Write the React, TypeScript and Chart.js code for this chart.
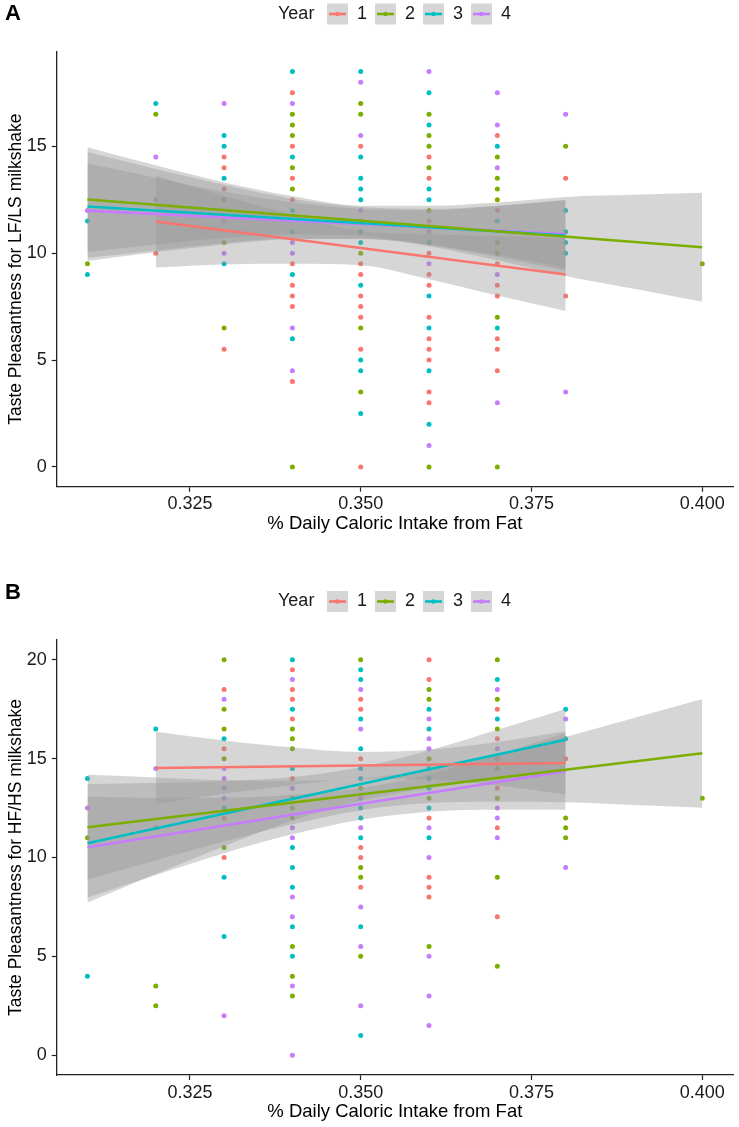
import React, { useEffect, useRef } from 'react';
import { Chart, registerables } from 'chart.js';

Chart.register(...registerables);

const YEARS = ['1', '2', '3', '4'];
const COLORS = ['#F8766D', '#7CAE00', '#00BFC4', '#C77CFF'];
const X_TICKS = [0.325, 0.35, 0.375, 0.4];
const A_Y_TICKS = [0, 5, 10, 15];
const B_Y_TICKS = [0, 5, 10, 15, 20];
const X_TITLE = '% Daily Caloric Intake from Fat';
const A_Y_TITLE = 'Taste Pleasantness for LF/LS milkshake';
const B_Y_TITLE = 'Taste Pleasantness for HF/HS milkshake';

// ---------- Panel A scatter points [x, y] ----------
const A_YEAR1: number[][] = [
  [0.32, 10],
  [0.33, 14.5], [0.33, 14], [0.33, 13], [0.33, 5.5],
  [0.34, 17.5], [0.34, 15], [0.34, 13.5], [0.34, 12.5], [0.34, 9.5], [0.34, 8.5], [0.34, 8], [0.34, 7.5], [0.34, 4],
  [0.35, 15], [0.35, 9.5], [0.35, 9], [0.35, 8], [0.35, 7.5], [0.35, 7], [0.35, 5.5], [0.35, 0],
  [0.36, 14.5], [0.36, 13.5], [0.36, 11.5], [0.36, 10], [0.36, 9], [0.36, 8.5], [0.36, 7], [0.36, 6], [0.36, 5.5], [0.36, 5], [0.36, 3.5], [0.36, 3],
  [0.37, 15.5], [0.37, 12], [0.37, 9.5], [0.37, 8.5], [0.37, 8], [0.37, 6], [0.37, 5.5], [0.37, 4.5],
  [0.38, 13.5], [0.38, 8],
];
const A_YEAR2: number[][] = [
  [0.31, 9.5],
  [0.32, 16.5],
  [0.33, 12.5], [0.33, 10.5], [0.33, 6.5],
  [0.34, 16.5], [0.34, 16], [0.34, 15.5], [0.34, 14], [0.34, 13], [0.34, 0],
  [0.35, 17], [0.35, 16.5], [0.35, 11.5], [0.35, 10], [0.35, 6.5], [0.35, 3.5],
  [0.36, 16.5], [0.36, 15.5], [0.36, 15], [0.36, 14], [0.36, 12], [0.36, 0],
  [0.37, 14.5], [0.37, 13.5], [0.37, 13], [0.37, 12.5], [0.37, 10.5], [0.37, 10], [0.37, 7], [0.37, 0],
  [0.38, 15],
  [0.4, 9.5],
];
const A_YEAR3: number[][] = [
  [0.31, 11.5], [0.31, 9],
  [0.32, 17],
  [0.33, 15.5], [0.33, 15], [0.33, 13.5], [0.33, 9.5],
  [0.34, 18.5], [0.34, 14.5], [0.34, 12], [0.34, 11], [0.34, 9], [0.34, 6],
  [0.35, 18.5], [0.35, 14.5], [0.35, 13.5], [0.35, 13], [0.35, 12.5], [0.35, 11], [0.35, 10.5], [0.35, 8.5], [0.35, 5], [0.35, 4.5], [0.35, 2.5],
  [0.36, 17.5], [0.36, 16], [0.36, 13], [0.36, 12.5], [0.36, 10.5], [0.36, 8], [0.36, 6.5], [0.36, 4.5], [0.36, 2],
  [0.37, 15], [0.37, 11.5], [0.37, 6.5],
  [0.38, 12], [0.38, 11], [0.38, 10.5], [0.38, 10],
];
const A_YEAR4: number[][] = [
  [0.31, 12],
  [0.32, 14.5], [0.32, 12.5],
  [0.33, 17], [0.33, 11.5], [0.33, 10],
  [0.34, 17], [0.34, 10.5], [0.34, 10], [0.34, 6.5], [0.34, 4.5],
  [0.35, 18], [0.35, 15.5], [0.35, 12],
  [0.36, 18.5], [0.36, 11], [0.36, 9.5], [0.36, 1],
  [0.37, 17.5], [0.37, 16], [0.37, 14], [0.37, 9], [0.37, 3],
  [0.38, 16.5], [0.38, 3.5],
];

// ---------- Panel A fits ----------
const A_FIT_X1 = [0.32, 0.33, 0.34, 0.35, 0.36, 0.37, 0.38];
const A_FIT_X2 = [0.31, 0.32, 0.33, 0.34, 0.35, 0.36, 0.37, 0.38, 0.39, 0.4];
const A_FIT_X3 = [0.31, 0.32, 0.33, 0.34, 0.35, 0.36, 0.37, 0.38];
const A_FIT_X4 = [0.31, 0.32, 0.33, 0.34, 0.35, 0.36, 0.37, 0.38];
const A_LINE1 = [11.48, 9.0];
const A_LINE2 = [12.51, 10.28];
const A_LINE3 = [12.18, 10.83];
const A_LINE4 = [11.99, 10.9];
const A_HI1 = [13.63, 12.67, 11.8, 11.04, 10.88, 10.8, 10.7];
const A_LO1 = [9.33, 9.47, 9.5, 9.44, 8.78, 8.02, 7.3];
const A_HI2 = [14.96, 14.11, 13.31, 12.67, 12.22, 12.22, 12.37, 12.63, 12.73, 12.83];
const A_LO2 = [10.06, 10.41, 10.71, 10.87, 10.82, 10.32, 9.67, 8.93, 8.33, 7.73];
const A_HI3 = [14.73, 13.94, 13.2, 12.55, 12.16, 12.07, 12.22, 12.48];
const A_LO3 = [9.63, 10.04, 10.4, 10.65, 10.66, 10.37, 9.82, 9.18];
const A_HI4 = [14.19, 13.53, 12.88, 12.37, 12.07, 12.01, 12.21, 12.5];
const A_LO4 = [9.79, 10.13, 10.48, 10.67, 10.67, 10.41, 9.91, 9.3];

// ---------- Panel B scatter points [x, y] ----------
const B_YEAR1: number[][] = [
  [0.32, 11.5],
  [0.33, 18.5], [0.33, 15.5], [0.33, 12], [0.33, 10],
  [0.34, 19.5], [0.34, 18.5], [0.34, 18], [0.34, 17], [0.34, 14],
  [0.35, 18], [0.35, 17.5], [0.35, 15], [0.35, 10.5], [0.35, 10], [0.35, 8.5],
  [0.36, 20], [0.36, 19], [0.36, 12], [0.36, 9], [0.36, 8.5], [0.36, 8],
  [0.37, 17.5], [0.37, 16], [0.37, 15], [0.37, 13.5], [0.37, 11.5], [0.37, 7],
  [0.38, 15],
];
const B_YEAR2: number[][] = [
  [0.31, 11],
  [0.32, 3.5], [0.32, 2.5],
  [0.33, 20], [0.33, 17.5], [0.33, 16.5], [0.33, 15], [0.33, 10.5],
  [0.34, 16.5], [0.34, 16], [0.34, 15.5], [0.34, 13], [0.34, 12.5], [0.34, 12], [0.34, 5.5], [0.34, 4], [0.34, 3],
  [0.35, 20], [0.35, 13.5], [0.35, 9.5], [0.35, 9], [0.35, 5],
  [0.36, 18.5], [0.36, 18], [0.36, 15], [0.36, 13], [0.36, 5.5],
  [0.37, 20], [0.37, 18], [0.37, 16.5], [0.37, 14.5], [0.37, 13], [0.37, 9], [0.37, 4.5],
  [0.38, 12], [0.38, 11.5], [0.38, 11],
  [0.4, 13],
];
const B_YEAR3: number[][] = [
  [0.31, 14], [0.31, 4],
  [0.32, 16.5],
  [0.33, 16], [0.33, 12.5], [0.33, 9], [0.33, 6],
  [0.34, 20], [0.34, 17.5], [0.34, 14.5], [0.34, 10.5], [0.34, 9.5], [0.34, 8.5], [0.34, 6.5], [0.34, 5],
  [0.35, 19.5], [0.35, 19], [0.35, 17], [0.35, 15.5], [0.35, 14.5], [0.35, 14], [0.35, 12.5], [0.35, 12], [0.35, 11], [0.35, 6.5], [0.35, 1],
  [0.36, 17.5], [0.36, 16.5], [0.36, 14.5], [0.36, 14], [0.36, 13.5], [0.36, 12.5], [0.36, 11],
  [0.37, 19], [0.37, 17],
  [0.38, 17.5], [0.38, 16],
];
const B_YEAR4: number[][] = [
  [0.31, 12.5],
  [0.32, 14.5],
  [0.33, 18], [0.33, 14.5], [0.33, 14], [0.33, 13.5], [0.33, 13], [0.33, 2],
  [0.34, 19], [0.34, 13.5], [0.34, 11.5], [0.34, 11], [0.34, 8], [0.34, 7], [0.34, 3.5], [0.34, 0],
  [0.35, 18.5], [0.35, 16.5], [0.35, 13], [0.35, 11.5], [0.35, 7.5], [0.35, 5.5], [0.35, 2.5],
  [0.36, 17], [0.36, 16], [0.36, 15.5], [0.36, 11.5], [0.36, 10], [0.36, 5], [0.36, 3], [0.36, 1.5],
  [0.37, 18.5], [0.37, 15.5], [0.37, 12.5], [0.37, 12], [0.37, 11],
  [0.38, 17], [0.38, 9.5],
];

// ---------- Panel B fits ----------
const B_FIT_X1 = [0.32, 0.33, 0.34, 0.35, 0.36, 0.37, 0.38];
const B_FIT_X2 = [0.31, 0.32, 0.33, 0.34, 0.35, 0.36, 0.37, 0.38, 0.39, 0.4];
const B_FIT_X3 = [0.31, 0.32, 0.33, 0.34, 0.35, 0.36, 0.37, 0.38];
const B_FIT_X4 = [0.31, 0.32, 0.33, 0.34, 0.35, 0.36, 0.37, 0.38];
const B_LINE1 = [14.53, 14.78];
const B_LINE2 = [11.53, 15.27];
const B_LINE3 = [10.72, 15.96];
const B_LINE4 = [10.52, 14.36];
const B_HI1 = [16.36, 15.92, 15.56, 15.34, 15.45, 15.84, 16.38];
const B_LO1 = [12.7, 13.22, 13.66, 13.98, 13.95, 13.64, 13.18];
const B_HI2 = [14.18, 14.05, 13.91, 13.88, 13.99, 14.46, 15.22, 16.09, 17.05, 18.02];
const B_LO2 = [8.88, 9.85, 10.81, 11.68, 12.39, 12.76, 12.82, 12.79, 12.65, 12.52];
const B_HI3 = [13.72, 13.77, 13.87, 14.07, 14.57, 15.41, 16.46, 17.51];
const B_LO3 = [7.72, 9.17, 10.57, 11.87, 12.87, 13.51, 13.96, 14.41];
const B_HI4 = [13.07, 13.02, 13.02, 13.17, 13.51, 14.21, 15.21, 16.31];
const B_LO4 = [7.97, 9.12, 10.22, 11.17, 11.91, 12.31, 12.41, 12.41];

const FONT = '"Liberation Sans", Arial, Helvetica, sans-serif';
const RIBBON = 'rgba(153,153,153,0.4)';

type PanelSpec = {
  points: number[][][];
  fitX: number[][];
  lines: number[][];
  hi: number[][];
  lo: number[][];
  yMin: number;
  yMax: number;
  yTicks: number[];
  yTitle: string;
  letter: string;
  letterY: number;
  legendY: number;
  padTop: number;
  padBottom: number;
};

function buildDatasets(p: PanelSpec): any[] {
  const ds: any[] = [];
  p.points.forEach((pts, i) => {
    ds.push({
      type: 'scatter',
      label: 'pts' + YEARS[i],
      data: pts.map(([x, y]) => ({ x, y })),
      pointRadius: 2.5,
      pointHoverRadius: 2.5,
      pointBackgroundColor: COLORS[i],
      pointBorderWidth: 0,
      showLine: false,
      order: 3,
    });
  });
  p.fitX.forEach((xs, i) => {
    ds.push({
      type: 'line',
      label: 'lo' + YEARS[i],
      data: xs.map((x, k) => ({ x, y: p.lo[i][k] })),
      borderWidth: 0,
      borderColor: 'rgba(0,0,0,0)',
      pointRadius: 0,
      fill: false,
      cubicInterpolationMode: 'monotone',
      order: 2,
    });
    ds.push({
      type: 'line',
      label: 'hi' + YEARS[i],
      data: xs.map((x, k) => ({ x, y: p.hi[i][k] })),
      borderWidth: 0,
      borderColor: 'rgba(0,0,0,0)',
      pointRadius: 0,
      fill: '-1',
      backgroundColor: RIBBON,
      cubicInterpolationMode: 'monotone',
      order: 2,
    });
  });
  p.fitX.forEach((xs, i) => {
    ds.push({
      type: 'line',
      label: 'fit' + YEARS[i],
      data: [
        { x: xs[0], y: p.lines[i][0] },
        { x: xs[xs.length - 1], y: p.lines[i][1] },
      ],
      borderColor: COLORS[i],
      borderWidth: 2.6,
      pointRadius: 0,
      fill: false,
      order: 1,
    });
  });
  return ds;
}

const decorPlugin = {
  id: 'panelDecor',
  afterDraw(chart: any, _args: any, opts: any) {
    const ctx = chart.ctx;
    ctx.save();
    ctx.textBaseline = 'middle';
    ctx.textAlign = 'left';
    ctx.fillStyle = '#000';
    ctx.font = 'bold 22px ' + FONT;
    ctx.fillText(opts.letter, 5, opts.letterY);
    const cy = opts.legendY;
    ctx.font = '18px ' + FONT;
    ctx.fillStyle = '#1a1a1a';
    ctx.fillText('Year', 278, cy);
    const boxX = [327, 375, 423, 471];
    YEARS.forEach((yr, i) => {
      const bx = boxX[i];
      ctx.fillStyle = RIBBON;
      ctx.fillRect(bx, cy - 10.5, 21, 21);
      ctx.strokeStyle = COLORS[i];
      ctx.lineWidth = 2.6;
      ctx.beginPath();
      ctx.moveTo(bx + 2, cy);
      ctx.lineTo(bx + 19, cy);
      ctx.stroke();
      ctx.fillStyle = COLORS[i];
      ctx.beginPath();
      ctx.arc(bx + 10.5, cy, 2.2, 0, Math.PI * 2);
      ctx.fill();
      ctx.fillStyle = '#1a1a1a';
      ctx.fillText(yr, bx + 30, cy);
    });
    ctx.restore();
  },
};

function makeConfig(p: PanelSpec): any {
  return {
    type: 'scatter',
    data: { datasets: buildDatasets(p) },
    plugins: [decorPlugin],
    options: {
      animation: false,
      responsive: false,
      devicePixelRatio: 1,
      events: [],
      layout: { padding: { left: 0, right: 6, top: p.padTop, bottom: p.padBottom } },
      plugins: {
        legend: { display: false },
        tooltip: { enabled: false },
        panelDecor: { letter: p.letter, letterY: p.letterY, legendY: p.legendY },
      },
      scales: {
        x: {
          type: 'linear',
          min: 0.3055,
          max: 0.4045,
          afterBuildTicks: (s: any) => {
            s.ticks = X_TICKS.map((v) => ({ value: v }));
          },
          afterFit: (s: any) => {
            s.height = 52;
          },
          ticks: {
            callback: (v: any) => Number(v).toFixed(3),
            font: { family: FONT, size: 18 },
            color: '#1a1a1a',
            padding: 2,
            maxRotation: 0,
          },
          grid: { display: true, drawOnChartArea: false, drawTicks: true, tickLength: 5, color: '#222', tickWidth: 1.2 },
          border: { display: true, color: '#222', width: 1.3 },
          title: {
            display: true,
            text: X_TITLE,
            font: { family: FONT, size: 18.5 },
            color: '#000',
            padding: { top: 0, bottom: 4 },
          },
        },
        y: {
          type: 'linear',
          min: p.yMin,
          max: p.yMax,
          afterBuildTicks: (s: any) => {
            s.ticks = p.yTicks.map((v) => ({ value: v }));
          },
          afterFit: (s: any) => {
            s.width = 56.7;
          },
          ticks: {
            font: { family: FONT, size: 18 },
            color: '#1a1a1a',
            padding: 5,
          },
          grid: { display: true, drawOnChartArea: false, drawTicks: true, tickLength: 5, color: '#222', tickWidth: 1.2 },
          border: { display: true, color: '#222', width: 1.3 },
          title: {
            display: true,
            text: p.yTitle,
            font: { family: FONT, size: 17.5 },
            color: '#000',
            padding: { top: 6, bottom: 0 },
          },
        },
      },
    },
  };
}

const PANEL_A: PanelSpec = {
  points: [A_YEAR1, A_YEAR2, A_YEAR3, A_YEAR4],
  fitX: [A_FIT_X1, A_FIT_X2, A_FIT_X3, A_FIT_X4],
  lines: [A_LINE1, A_LINE2, A_LINE3, A_LINE4],
  hi: [A_HI1, A_HI2, A_HI3, A_HI4],
  lo: [A_LO1, A_LO2, A_LO3, A_LO4],
  yMin: -0.925,
  yMax: 19.425,
  yTicks: A_Y_TICKS,
  yTitle: A_Y_TITLE,
  letter: 'A',
  letterY: 14,
  legendY: 14,
  padTop: 51.7,
  padBottom: 31.3,
};

const PANEL_B: PanelSpec = {
  points: [B_YEAR1, B_YEAR2, B_YEAR3, B_YEAR4],
  fitX: [B_FIT_X1, B_FIT_X2, B_FIT_X3, B_FIT_X4],
  lines: [B_LINE1, B_LINE2, B_LINE3, B_LINE4],
  hi: [B_HI1, B_HI2, B_HI3, B_HI4],
  lo: [B_LO1, B_LO2, B_LO3, B_LO4],
  yMin: -1,
  yMax: 21,
  yTicks: B_Y_TICKS,
  yTitle: B_Y_TITLE,
  letter: 'B',
  letterY: 23,
  legendY: 31.5,
  padTop: 70,
  padBottom: 0,
};

function Panel({ spec, top, height }: { spec: PanelSpec; top: number; height: number }) {
  const ref = useRef<HTMLCanvasElement | null>(null);
  useEffect(() => {
    if (!ref.current) return;
    const chart = new Chart(ref.current, makeConfig(spec));
    return () => chart.destroy();
  }, [spec]);
  return (
    <canvas
      ref={ref}
      width={739}
      height={height}
      style={{ position: 'absolute', left: 0, top, width: 739, height, display: 'block' }}
    />
  );
}

export default function App() {
  return (
    <div style={{ position: 'absolute', left: 0, top: 0, width: 739, height: 1127, background: '#fff' }}>
      <Panel spec={PANEL_A} top={0} height={570} />
      <Panel spec={PANEL_B} top={570} height={557} />
    </div>
  );
}
